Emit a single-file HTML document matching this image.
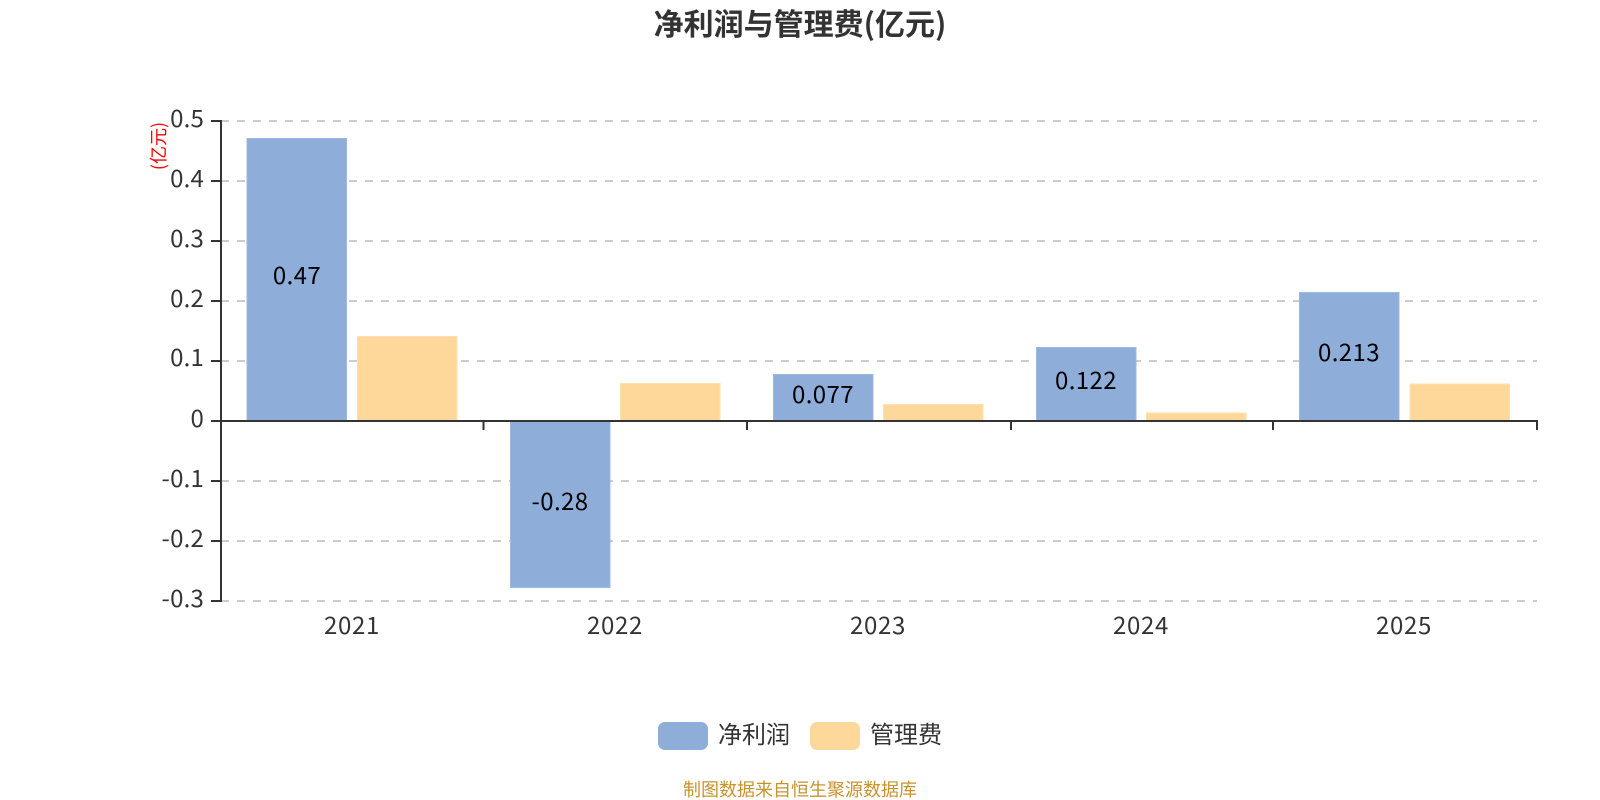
<!DOCTYPE html>
<html><head><meta charset="utf-8">
<style>
html,body{margin:0;padding:0;background:#fff}
svg{display:block}
text{font-family:"Liberation Sans","Noto Sans CJK SC",sans-serif}
.n{font-family:"Noto Sans CJK SC",sans-serif;font-size:24px;letter-spacing:.7px;fill:#333}
.y{letter-spacing:.2px}
.v{font-family:"Noto Sans CJK SC",sans-serif;font-size:24px;letter-spacing:.4px;fill:#000;text-anchor:middle}
.b{fill:#8eadd9;stroke:#9db9e0;stroke-width:1}
.o{fill:#fed89a;stroke:#fee0ae;stroke-width:1}
</style></head><body>
<svg width="1600" height="800" viewBox="0 0 1600 800" xmlns="http://www.w3.org/2000/svg">
<rect width="1600" height="800" fill="#fff"/>
<text x="800" y="35" text-anchor="middle" font-size="30" font-weight="700" fill="#333" style='font-family:"Noto Sans CJK SC",sans-serif'>净利润与管理费(亿元)</text>
<g stroke="#ccc" stroke-width="2" stroke-dasharray="8 8">
<path d="M221 121H1537M221 181H1537M221 241H1537M221 301H1537M221 361H1537M221 481H1537M221 541H1537M221 601H1537"/>
</g>
<g class="bars">
<rect class="b" x="247" y="138.5" width="99.5" height="282.5"/>
<rect class="o" x="357.5" y="336.5" width="99.5" height="84.5"/>
<rect class="b" x="510.5" y="421" width="99.5" height="166.5"/>
<rect class="o" x="620.5" y="383.5" width="99.5" height="37.5"/>
<rect class="b" x="773.5" y="374.5" width="99.5" height="46.5"/>
<rect class="o" x="883.5" y="404.5" width="99.5" height="16.5"/>
<rect class="b" x="1036.5" y="347.5" width="99.5" height="73.5"/>
<rect class="o" x="1146.5" y="413" width="99.5" height="8"/>
<rect class="b" x="1299.5" y="292.5" width="99.5" height="128.5"/>
<rect class="o" x="1410" y="384" width="99.5" height="37"/>
</g>
<g stroke="#333" stroke-width="2" fill="none">
<path d="M221 120V602"/>
<path d="M211 121H221M211 181H221M211 241H221M211 301H221M211 361H221M211 421H221M211 481H221M211 541H221M211 601H221"/>
<path d="M220 421H1538"/>
<path d="M483.5 421V430M747 421V430M1011 421V430M1273 421V430M1537 421V430"/>
</g>
<g text-anchor="end">
<text class="n y" x="204" y="127">0.5</text>
<text class="n y" x="204" y="187">0.4</text>
<text class="n y" x="204" y="247">0.3</text>
<text class="n y" x="204" y="307">0.2</text>
<text class="n y" x="204" y="366">0.1</text>
<text class="n y" x="204" y="427">0</text>
<text class="n y" x="204" y="487">-0.1</text>
<text class="n y" x="204" y="547">-0.2</text>
<text class="n y" x="204" y="607">-0.3</text>
</g>
<g text-anchor="middle">
<text class="n" x="352" y="634">2021</text>
<text class="n" x="615" y="634">2022</text>
<text class="n" x="878" y="634">2023</text>
<text class="n" x="1141" y="634">2024</text>
<text class="n" x="1404" y="634">2025</text>
</g>
<text class="v" x="297" y="284">0.47</text>
<text class="v" x="560" y="510">-0.28</text>
<text class="v" x="823" y="403">0.077</text>
<text class="v" x="1086" y="389">0.122</text>
<text class="v" x="1349" y="361">0.213</text>
<text transform="translate(165 146) rotate(-90)" text-anchor="middle" font-size="18" fill="#f00" style='font-family:"Noto Sans CJK SC",sans-serif'>(亿元)</text>
<rect x="658" y="722" width="50" height="28" rx="7" fill="#8eadd9"/>
<text x="718" y="743" font-size="24" fill="#333" style='font-family:"Noto Sans CJK SC",sans-serif'>净利润</text>
<rect x="810" y="722" width="50" height="28" rx="7" fill="#fed89a"/>
<text x="870" y="743" font-size="24" fill="#333" style='font-family:"Noto Sans CJK SC",sans-serif'>管理费</text>
<text x="800" y="796" text-anchor="middle" font-size="18" fill="#c8922d" style='font-family:"Noto Sans CJK SC",sans-serif'>制图数据来自恒生聚源数据库</text>
</svg>
</body></html>
